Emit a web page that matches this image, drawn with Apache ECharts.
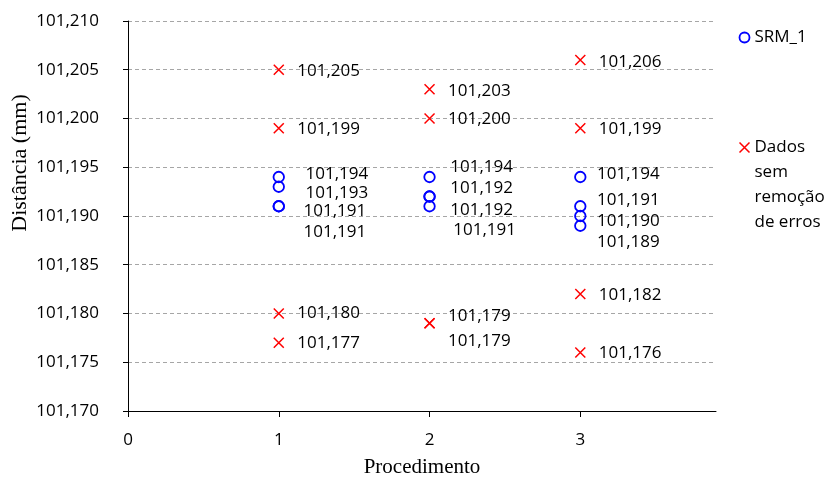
<!DOCTYPE html>
<html>
<head>
<meta charset="utf-8">
<script src="https://cdn.jsdelivr.net/npm/echarts@6/dist/echarts.min.js"></script>
<style>
  html, body { margin: 0; padding: 0; background: #fff; }
  #chart { width: 835px; height: 481px; }
</style>
</head>
<body>
<div id="chart"></div>
<script>
// Procedures on the x axis and the measured distances (mm) for each one
const procedures = [1, 2, 3];
const xTicks = [0, 1, 2, 3];
const yMin = 101.170;
const yMax = 101.210;
const yStep = 0.005;

// SRM_1 measurements, one list per procedure
const srm1 = [
  [101.194, 101.193, 101.191, 101.191],
  [101.194, 101.192, 101.192, 101.191],
  [101.194, 101.191, 101.190, 101.189]
];

// Raw data (no error removal), one list per procedure
const rawData = [
  [101.205, 101.199, 101.180, 101.177],
  [101.203, 101.200, 101.179, 101.179],
  [101.206, 101.199, 101.182, 101.176]
];

// Pixel nudges for value labels so that stacked labels stay readable
const srm1LabelShift = [
  [[8, -3], [8, 6], [6, 5], [6, 26]],
  [[2, -10], [2, -8.5], [2, 13.5], [5, 24]],
  [[-2, -3], [-2, -6], [-2, 5], [-2, 16.5]]
];
const rawLabelShift = [
  [[0, 1], [0, 1], [0, 0], [0, 0]],
  [[0, 1.5], [0, 1], [0, -7.5], [0, 17.7]],
  [[0, 2], [0, 1], [0, 1], [0, 0.5]]
];

const fmt = v => v.toFixed(3).replace('.', ',');
const LABEL_FONT = '"Open Sans", "Noto Sans", sans-serif';
const SERIF_FONT = '"Liberation Serif", "Times New Roman", serif';
const X_PATH = 'path://M0,0L10,10M10,0L0,10';

function buildPoints(groups) {
  const out = [];
  groups.forEach((vals, i) => {
    vals.forEach(v => out.push([procedures[i], v]));
  });
  return out;
}

function shiftLayout(shifts) {
  const flat = [].concat(...shifts);
  return params => {
    const s = flat[params.dataIndex] || [0, 0];
    return { dx: s[0], dy: s[1], hideOverlap: false };
  };
}

const chart = echarts.init(document.getElementById('chart'), null, { renderer: 'canvas' });

const labelCommon = {
  show: true,
  position: 'right',
  distance: 11,
  color: '#000',
  fontFamily: LABEL_FONT,
  fontSize: 17,
  formatter: p => fmt(p.value[1])
};

chart.setOption({
  backgroundColor: '#fff',
  animation: false,
  grid: { left: 128, right: 119, top: 21, bottom: 70, containLabel: false, outerBoundsMode: 'none' },
  xAxis: {
    type: 'value',
    min: 0,
    max: 3.9,
    interval: 1,
    name: 'Procedimento',
    nameLocation: 'middle',
    nameGap: 46,
    nameTextStyle: { fontFamily: SERIF_FONT, fontSize: 21, color: '#000' },
    axisLine: { show: true, onZero: false, lineStyle: { color: '#000', width: 1 } },
    axisTick: { show: true, inside: false, length: 6, lineStyle: { color: '#000' }, customValues: xTicks },
    axisLabel: { color: '#000', fontFamily: LABEL_FONT, fontSize: 17, margin: 21, customValues: xTicks },
    splitLine: { show: false }
  },
  yAxis: {
    type: 'value',
    min: yMin,
    max: yMax,
    interval: yStep,
    name: 'Distância (mm)',
    nameLocation: 'middle',
    nameGap: 97,
    nameMoveOverlap: false,
    nameTextStyle: {
      fontFamily: SERIF_FONT,
      fontSize: 22,
      color: '#000',
      padding: [0, 0, 0, 106]
    },
    axisLine: { show: true, lineStyle: { color: '#000', width: 1 } },
    axisTick: { show: true, inside: false, length: 5, lineStyle: { color: '#000' } },
    axisLabel: { color: '#000', fontFamily: LABEL_FONT, fontSize: 17, margin: 29, formatter: v => fmt(v) },
    splitLine: { show: true, lineStyle: { color: '#a6a6a6', width: 1, type: [4, 3] } }
  },
  legend: [
    {
      left: 737, top: 29,
      padding: 0,
      orient: 'vertical',
      itemWidth: 10, itemHeight: 10,
      textStyle: { fontFamily: LABEL_FONT, fontSize: 17, color: '#000' },
      data: [{
        name: 'SRM_1',
        icon: 'circle',
        itemStyle: { color: 'none', borderColor: '#0000ff', borderWidth: 1.8 }
      }]
    },
    {
      left: 737, top: 60,
      padding: 0,
      orient: 'vertical',
      itemWidth: 10, itemHeight: 10,
      // three leading blank lines keep the marker level with the first line
      formatter: () => '\n\n\nDados\nsem\nremoção\nde erros',
      textStyle: {
        fontFamily: LABEL_FONT, fontSize: 17, color: '#000',
        lineHeight: 25
      },
      data: [{
        name: 'Dados sem remoção de erros',
        icon: X_PATH,
        itemStyle: { color: 'none', borderColor: '#ff0000', borderWidth: 1.5 }
      }]
    }
  ],
  series: [
    {
      name: 'SRM_1',
      type: 'scatter',
      symbol: 'circle',
      symbolSize: 10.5,
      itemStyle: { color: 'none', borderColor: '#0000ff', borderWidth: 1.8, opacity: 1 },
      label: labelCommon,
      labelLayout: shiftLayout(srm1LabelShift),
      data: buildPoints(srm1),
      z: 3
    },
    {
      name: 'Dados sem remoção de erros',
      type: 'scatter',
      symbol: X_PATH,
      symbolSize: 10,
      itemStyle: { color: 'none', borderColor: '#ff0000', borderWidth: 1.5, opacity: 1 },
      label: labelCommon,
      labelLayout: shiftLayout(rawLabelShift),
      data: buildPoints(rawData),
      z: 3
    }
  ]
});
</script>
</body>
</html>
